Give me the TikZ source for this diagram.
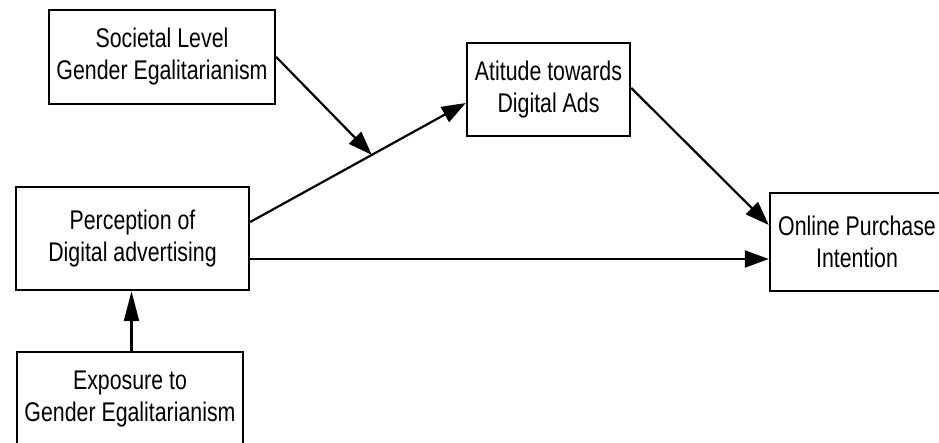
\documentclass[tikz,border=0pt]{standalone}
\usepackage{fontspec}
\setmainfont[FakeStretch=0.79]{Liberation Sans}
\usetikzlibrary{arrows.meta}
\begin{document}
\begin{tikzpicture}[x=1pt,y=-1pt,
  box/.style={draw,line width=2.4pt,inner sep=0pt,align=center,
    font=\fontsize{27}{32}\selectfont},
  conn/.style={line width=2.2pt,-{Triangle[length=24pt,width=17pt]}}]
\useasboundingbox[fill=white] (0,0) rectangle (939,443);
\node[box,minimum width=226pt,minimum height=94pt] (soc) at (162,57) {Societal Level\\Gender Egalitarianism};
\node[box,minimum width=163pt,minimum height=93pt] (att) at (548.5,89.5) {Atitude towards\\Digital Ads};
\node[box,minimum width=233pt,minimum height=103pt] (perc) at (132.5,238.5) {Perception of\\Digital advertising};
\node[box,minimum width=174pt,minimum height=98pt] (onl) at (857,242) {Online Purchase\\Intention};
\node[box,minimum width=226pt,minimum height=94pt] (exp) at (130,399) {Exposure to\\Gender Egalitarianism};
\draw[conn] ([yshift=16.5pt]perc.east) -- node[pos=0.564,coordinate] (m) {} ([yshift=-13.5pt]att.west);
\draw[conn] (soc.east) -- (m);
\draw[conn] ([yshift=-20.5pt]perc.east) -- ([yshift=-17pt]onl.west);
\draw[conn] ([yshift=1.5pt]att.east) -- ([yshift=17pt]onl.west);
\draw[conn,-{Triangle[length=30pt,width=15pt]}] ([xshift=1.5pt]exp.north) -- ([xshift=-1pt]perc.south);
\end{tikzpicture}
\end{document}
